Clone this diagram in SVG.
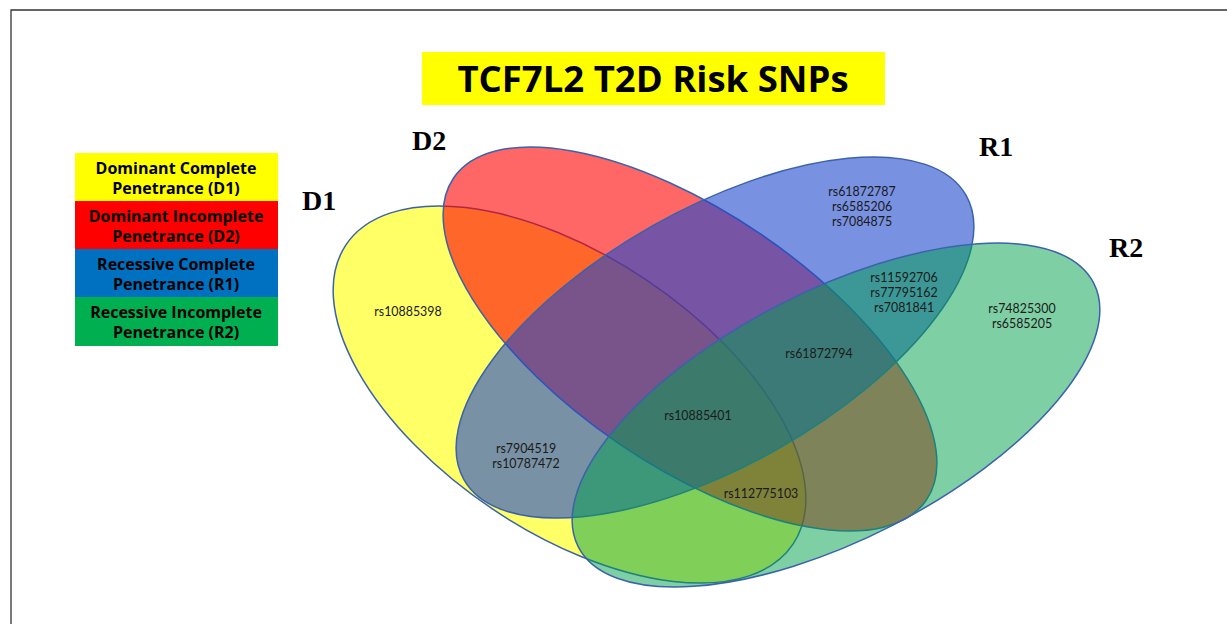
<svg xmlns="http://www.w3.org/2000/svg" width="1227" height="624" viewBox="0 0 1227 624">
  <style>
    .title { font-family: "Open Sans", "Liberation Sans", sans-serif; font-weight: 700; font-size: 36.5px; fill: #000; text-anchor: middle; }
    .legend { font-family: "Open Sans", "Liberation Sans", sans-serif; font-weight: 700; font-size: 16px; fill: #000; text-anchor: middle; }
    .set { font-family: "Liberation Serif", "DejaVu Serif", serif; font-weight: 700; font-size: 28px; fill: #000; }
    .snp { font-family: Lato, "Open Sans", "Liberation Sans", sans-serif; font-size: 12.4px; fill: #1a1a1a; text-anchor: middle; }
    .ell { stroke: #3a62ad; stroke-width: 1.5; }
  </style>

  <rect width="1227" height="624" fill="#ffffff"/>
  <!-- frame edges -->
  <path d="M11 624 V10 H1227" fill="none" stroke="#333333" stroke-width="1.3"/>

  <!-- title -->
  <g id="title">
    <rect x="422" y="52" width="463" height="53" fill="#ffff00"/>
    <text class="title" x="653" y="92">TCF7L2 T2D Risk SNPs</text>
  </g>

  <!-- legend -->
  <g id="legend">
    <rect x="75" y="153" width="203" height="48" fill="#ffff00"/>
    <text class="legend" x="176" y="174">Dominant Complete</text>
    <text class="legend" x="176" y="194">Penetrance (D1)</text>
    <rect x="75" y="201" width="203" height="48" fill="#ff0000"/>
    <text class="legend" x="176" y="222">Dominant Incomplete</text>
    <text class="legend" x="176" y="242">Penetrance (D2)</text>
    <rect x="75" y="249" width="203" height="48" fill="#0070c0"/>
    <text class="legend" x="176" y="270">Recessive Complete</text>
    <text class="legend" x="176" y="290">Penetrance (R1)</text>
    <rect x="75" y="297" width="203" height="49" fill="#00b050"/>
    <text class="legend" x="176" y="318">Recessive Incomplete</text>
    <text class="legend" x="176" y="338">Penetrance (R2)</text>
  </g>

  <!-- four translucent sets -->
  <g id="set-D1">
    <ellipse class="ell" cx="569.5" cy="394.5" rx="269" ry="138" transform="rotate(33.8 569.5 394.5)" fill="#ffff00" fill-opacity="0.6"/>
    <text class="set" x="302" y="210">D1</text>
  </g>
  <g id="set-D2">
    <ellipse class="ell" cx="690" cy="339" rx="286" ry="126.5" transform="rotate(34.25 690 339)" fill="#ff0000" fill-opacity="0.6"/>
    <text class="set" x="412" y="150">D2</text>
  </g>
  <g id="set-R1">
    <ellipse class="ell" cx="715" cy="337.5" rx="288.5" ry="128" transform="rotate(-29.5 715 337.5)" fill="rgb(30,72,205)" fill-opacity="0.6"/>
    <text class="set" x="979" y="156">R1</text>
  </g>
  <g id="set-R2">
    <ellipse class="ell" cx="836" cy="415" rx="289.5" ry="124" transform="rotate(-27.1 836 415)" fill="rgb(0,160,75)" fill-opacity="0.5"/>
    <text class="set" x="1109" y="257">R2</text>
  </g>

  <!-- region members -->
  <g id="snps">
    <text class="snp" x="408" y="316">rs10885398</text>
    <text class="snp" x="862" y="196">rs61872787</text>
    <text class="snp" x="862" y="211">rs6585206</text>
    <text class="snp" x="862" y="226">rs7084875</text>
    <text class="snp" x="904" y="282">rs11592706</text>
    <text class="snp" x="904" y="297">rs77795162</text>
    <text class="snp" x="904" y="312">rs7081841</text>
    <text class="snp" x="1022" y="313">rs74825300</text>
    <text class="snp" x="1022" y="328">rs6585205</text>
    <text class="snp" x="819" y="358">rs61872794</text>
    <text class="snp" x="698" y="420">rs10885401</text>
    <text class="snp" x="526" y="453">rs7904519</text>
    <text class="snp" x="526" y="468">rs10787472</text>
    <text class="snp" x="761" y="498">rs112775103</text>
  </g>
</svg>
